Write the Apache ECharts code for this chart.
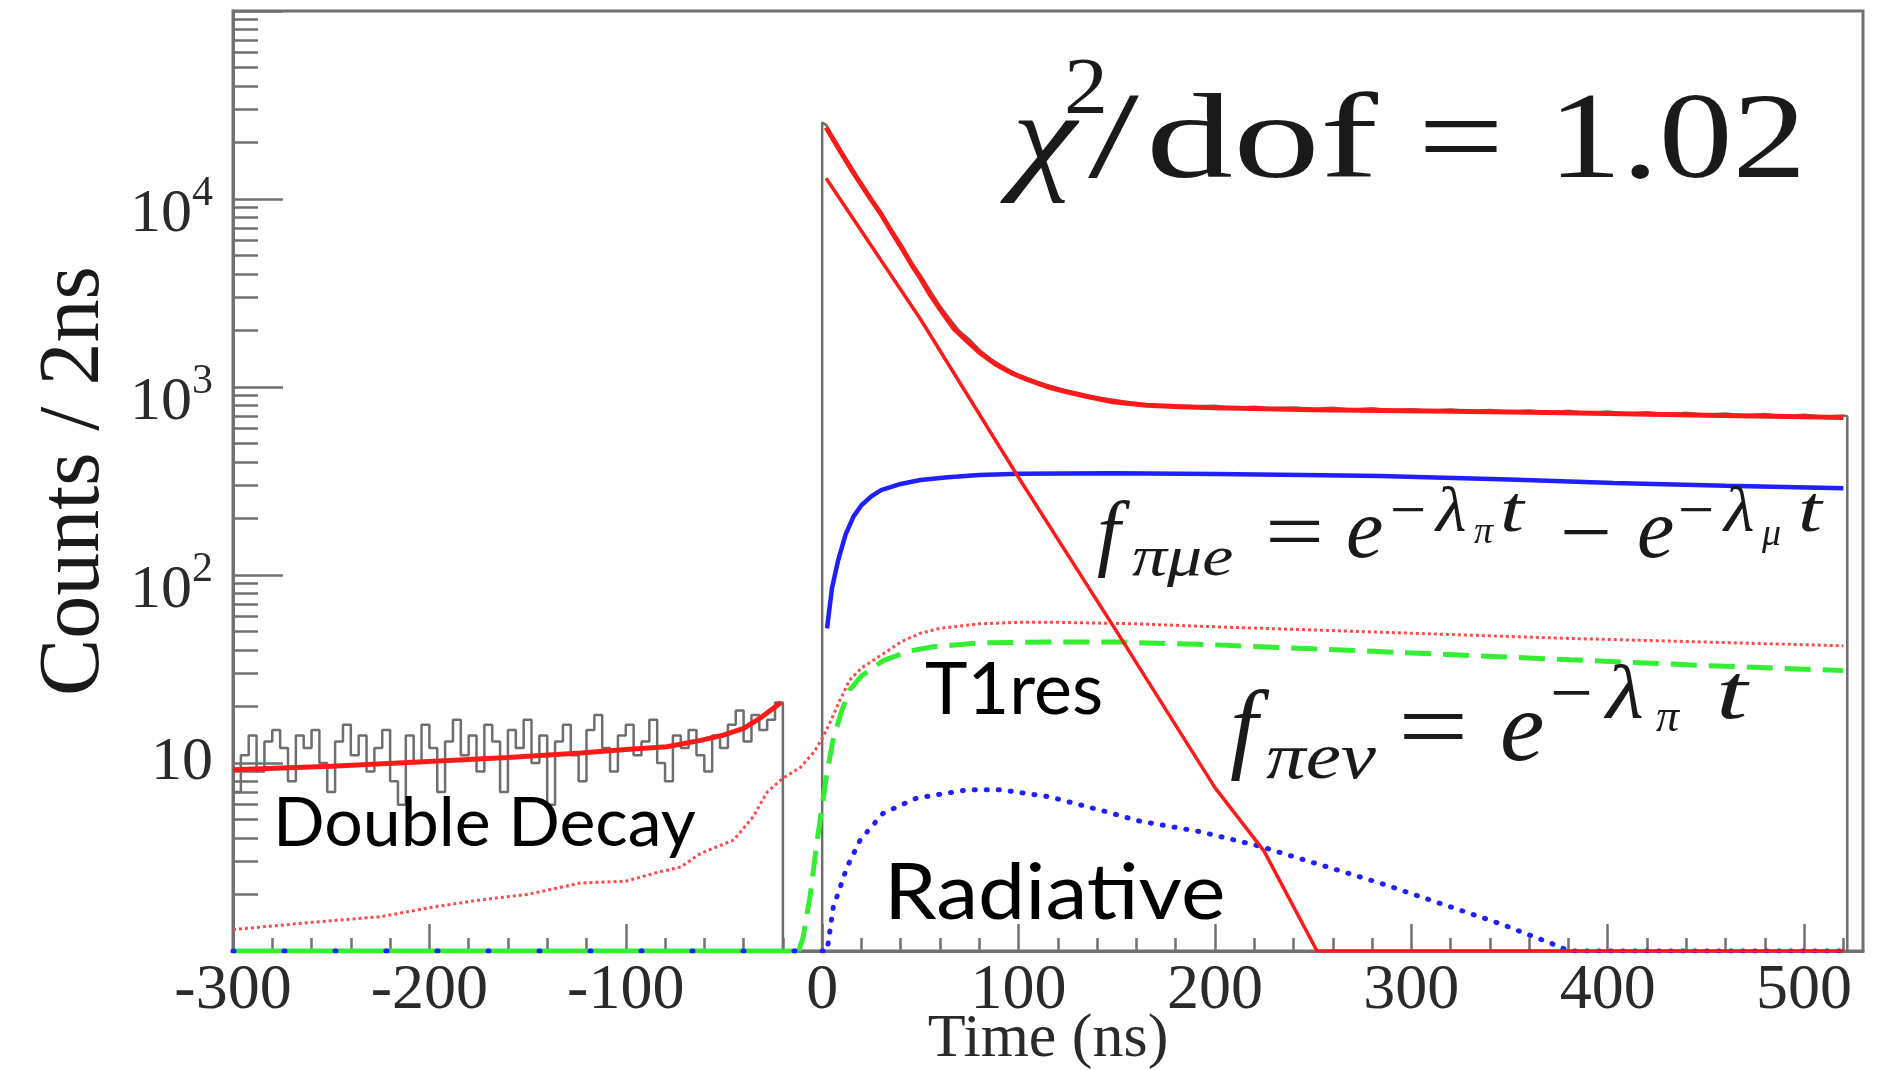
<!DOCTYPE html>
<html>
<head>
<meta charset="utf-8">
<title>Time spectrum fit</title>
<script src="https://cdn.jsdelivr.net/npm/echarts@6/dist/echarts.min.js"></script>
<style>
  html, body { margin: 0; padding: 0; background: #fff; }
  #chart { width: 1881px; height: 1070px; }
</style>
</head>
<body>
<div id="chart"></div>
<script>
// ---- values (time in ns, counts / 2ns) ----
const xMajorTicks = [-300, -200, -100, 0, 100, 200, 300, 400, 500];
const yLabelTicks = [10, 100, 1000, 10000];

// data before the prompt peak: 4 ns bins starting at -300
const earlyStart = -300;
const earlyWidth = 4;
const earlyCounts = [
  7, 11, 14, 9, 13, 15, 12, 8, 14, 12,
  15, 10, 7, 13, 16, 11, 14, 9, 12, 15,
  8, 6, 14, 10, 16, 12, 7, 13, 17, 11,
  14, 9, 16, 13, 7, 15, 12, 17, 10, 14,
  6, 13, 16, 11, 8, 15, 18, 12, 9, 14,
  16, 11, 13, 17, 10, 8, 14, 12, 15, 11,
  9, 14, 12, 16, 19, 13, 18, 15, 17, 21
];

// data after t = 0
const lateT = [0, 0, 2, 6, 10, 14, 18, 22, 26, 30, 35, 40, 45, 50, 55, 60, 65, 70, 75, 80, 85, 90, 95,
  100, 110, 120, 130, 140, 150, 160, 170, 180, 190, 200, 210, 220, 230, 240, 250, 260, 270, 280, 290,
  300, 310, 320, 330, 340, 350, 360, 370, 380, 390, 400, 410, 420, 430, 440, 450, 460, 470, 480, 490,
  500, 510, 520, 522, 522];
const lateCounts = [1, 25500, 24800, 20800, 17900, 15300, 13100, 11100, 9500, 8500, 6900, 5800, 4700, 3950, 3250, 2700, 2300, 1980, 1790, 1580, 1430, 1320, 1230,
  1160, 1060, 985, 925, 880, 850, 815, 805, 800, 790, 795, 772, 785, 770, 778, 766, 775, 757, 770, 752,
  762, 748, 760, 742, 755, 738, 750, 735, 748, 728, 740, 722, 735, 716, 730, 712, 722, 705, 718, 700,
  712, 695, 705, 700, 1];

// total fit
const fitEarlyT = [-300, -250, -208, -160, -123, -100, -79, -62, -50, -40, -32, -25, -21];
const fitEarlyV = [9.2, 9.6, 10.1, 10.7, 11.3, 11.8, 12.2, 13.2, 14.1, 15.3, 17.2, 19.5, 21];
const fitLateT = [2, 5, 10, 15, 20, 25, 30, 35, 40, 46, 50, 55, 60, 67, 74, 80, 88, 97, 105, 115, 125, 135,
  148, 165, 182, 200, 225, 250, 284, 320, 360, 400, 450, 500, 520];
const fitLateV = [24000, 21300, 17400, 14300, 11900, 9900, 8300, 6800, 5600, 4400, 3800, 3100, 2600, 2050, 1750, 1530, 1330, 1180, 1090, 1000, 940, 890,
  835, 800, 785, 775, 765, 757, 750, 742, 733, 722, 708, 695, 688];

// pi -> e nu component
const pienuT = [2, 50, 100, 150, 200, 225, 252, 520];
const pienuV = [12900, 2300, 330, 50, 7.4, 3.4, 1, 1];

// pi -> mu -> e component
const pimueT = [2.5, 5, 8, 12, 16, 20, 25, 30, 40, 50, 64, 80, 100, 148, 200, 245, 284, 350, 403, 460, 520];
const pimueV = [52, 85, 118, 165, 205, 235, 262, 283, 305, 320, 331, 340, 346, 348, 345, 340, 336, 322, 309, 298, 289];

// background (thin dotted red)
const bgT = [-300, -260, -225, -200, -174, -150, -123, -100, -85, -72, -62, -45, -35, -28, -20, -11, -4, 0, 4, 9, 14, 20,
  31, 40, 50, 60, 80, 100, 120, 160, 200, 250, 300, 380, 450, 520];
const bgV = [1.3, 1.42, 1.52, 1.7, 1.87, 2.0, 2.3, 2.35, 2.6, 2.8, 3.3, 3.9, 5.2, 7.0, 8.3, 9.5, 11.5, 13.5, 16.4, 21.5, 27.6, 32,
  38, 44, 49, 52, 55, 56, 56, 55, 53, 51, 49, 46, 44, 42];

// T1res component (green dashed)
const t1resBaseT = [-300, -12];
const t1resBaseV = [1, 1];
const t1resT = [-12, -9.7, -6, -2.5, 2.5, 5.6, 10, 14, 20, 31, 45, 56.5, 80, 116, 150, 200, 250, 300, 381, 450, 520];
const t1resV = [1, 1.18, 2.0, 3.9, 8.9, 13.3, 19, 24.5, 29, 35, 39.5, 41.5, 43.5, 44, 44, 42.5, 40.5, 38.5, 35.4, 33, 31];

// radiative component (blue dotted)
const radBaseT = [-300, 0];
const radBaseV = [1, 1];
const radT = [0, 2.5, 5.6, 12.7, 19.4, 31, 48, 74, 91, 116, 142, 162, 193, 223, 284, 345, 376, 380, 520];
const radV = [1, 1.0, 1.7, 2.8, 3.9, 5.4, 6.5, 7.2, 7.2, 6.6, 5.6, 4.9, 4.3, 3.6, 2.3, 1.4, 1.05, 1, 1];

// ---- build ----
const zip = (t, v) => t.map((x, i) => [x, v[i]]);
const earlyData = earlyCounts.map((c, i) => [earlyStart + i * earlyWidth, c]);
earlyData.push([-20, 1], [0, 1]);

const xMinorTicks = [];
for (let t = -280; t <= 520; t += 20) if (t % 100 !== 0) xMinorTicks.push(t);
const yMajorTicks = [1, 10, 100, 1000, 10000, 100000];
const yMinorTicks = [];
for (let d = 1; d < 100000; d *= 10) for (let m = 2; m <= 9; m++) yMinorTicks.push(m * d);

const serif = '"Liberation Serif", "Times New Roman", serif';
const sans = 'Lato, "Open Sans", sans-serif';
const axisGrey = '#707070';
const ink = '#1a1a1a';

function line(name, data, color, width, type, extra) {
  return Object.assign({
    name: name, type: 'line', data: data, symbol: 'none', smooth: false,
    lineStyle: { color: color, width: width, type: type || 'solid' },
    silent: true
  }, extra || {});
}

// a piece of math text placed by its left edge and baseline
function piece(s, x, base, size, o) {
  o = o || {};
  const fam = o.family || serif;
  return {
    type: 'text', x: x, y: base - (o.off || 0.32) * size, z: 100,
    scaleX: o.sx || 1,
    style: {
      text: s, fill: o.color || ink,
      font: (o.italic ? 'italic ' : 'normal ') + (o.weight || 'normal') + ' ' + size + 'px ' + fam,
      align: 'left', verticalAlign: 'middle'
    }
  };
}

const graphics = [
  // chi2 / dof = 1.02
  piece('χ', 1012, 184, 122, { italic: true, sx: 1.2 }),
  piece('2', 1064, 118, 80, { sx: 1.1 }),
  piece('/', 1088, 184, 122, { sx: 1.5 }),
  piece('dof', 1146, 184, 120, { sx: 1.45 }),
  piece('=', 1418, 184, 122, { sx: 1.25 }),
  piece('1.02', 1548, 184, 122, { sx: 1.21 }),

  // f_pimue = e^{-lambda_pi t} - e^{-lambda_mu t}
  piece('f', 1097, 565, 84, { italic: true }),
  piece('πμe', 1132, 578, 56, { italic: true, sx: 1.25 }),
  piece('=', 1265, 565, 84, { sx: 1.25 }),
  piece('e', 1346, 562, 84, { italic: true }),
  piece('−', 1390, 535, 64),
  piece('λ', 1436, 535, 64, { italic: true, sx: 1.1 }),
  piece('π', 1474, 545, 38, { italic: true }),
  piece('t', 1500, 535, 66, { italic: true, sx: 1.3 }),
  piece('−', 1560, 565, 84, { sx: 1.1 }),
  piece('e', 1637, 562, 84, { italic: true }),
  piece('−', 1678, 535, 64),
  piece('λ', 1724, 535, 64, { italic: true, sx: 1.1 }),
  piece('μ', 1762, 547, 38, { italic: true }),
  piece('t', 1798, 535, 66, { italic: true, sx: 1.3 }),

  // f_pienu = e^{-lambda_pi t}
  piece('f', 1230, 766, 100, { italic: true }),
  piece('πeν', 1266, 782, 66, { italic: true, sx: 1.2 }),
  piece('=', 1398, 766, 100, { sx: 1.25 }),
  piece('e', 1500, 766, 100, { italic: true }),
  piece('−', 1550, 722, 76),
  piece('λ', 1606, 722, 76, { italic: true, sx: 1.15 }),
  piece('π', 1656, 734, 46, { italic: true }),
  piece('t', 1716, 722, 78, { italic: true, sx: 1.45 }),

  // component labels
  piece('Double Decay', 273, 847, 68, { family: sans, off: 0.33, color: '#000' }),
  piece('T1res', 925, 715, 72, { family: sans, off: 0.33, color: '#000' }),
  piece('Radiative', 884, 920, 78, { family: sans, off: 0.33, color: '#000', sx: 1.08 })
];

const chart = echarts.init(document.getElementById('chart'));
chart.setOption({
  animation: false,
  backgroundColor: '#fff',
  grid: {
    left: 233, right: 18, top: 11, bottom: 119,
    show: true, borderColor: axisGrey, borderWidth: 3,
    containLabel: false, outerBoundsMode: 'none'
  },
  xAxis: [{
    type: 'value', min: -300, max: 530, position: 'bottom',
    axisLine: { show: true, onZero: false, lineStyle: { color: axisGrey, width: 3 } },
    axisTick: { show: true, inside: true, length: 27, customValues: xMajorTicks, lineStyle: { color: axisGrey, width: 2.5 } },
    axisLabel: { customValues: xMajorTicks, fontFamily: serif, fontSize: 64, color: '#2a2a2a', margin: 8 },
    splitLine: { show: false },
    name: 'Time (ns)', nameLocation: 'middle', nameGap: 58, nameMoveOverlap: false,
    nameTextStyle: { fontFamily: serif, fontSize: 62, color: '#2a2a2a' }
  }, {
    type: 'value', min: -300, max: 530, position: 'bottom',
    axisLine: { show: false, onZero: false },
    axisTick: { show: true, inside: true, length: 13, customValues: xMinorTicks, lineStyle: { color: axisGrey, width: 2.5 } },
    axisLabel: { show: false },
    splitLine: { show: false }
  }],
  yAxis: [{
    type: 'log', logBase: 10, min: 1, max: 100000, position: 'left',
    axisLine: { show: true, onZero: false, lineStyle: { color: axisGrey, width: 3 } },
    axisTick: { show: true, inside: true, length: 50, customValues: yMajorTicks, lineStyle: { color: axisGrey, width: 2.5 } },
    axisLabel: {
      customValues: yLabelTicks, margin: 20, color: '#2a2a2a',
      formatter: v => {
        const p = Math.round(Math.log10(v));
        return p === 1 ? '{p|10}' : '{b|10}{s|' + p + '}';
      },
      rich: {
        p: { fontFamily: serif, fontSize: 62, lineHeight: 62, color: '#2a2a2a' },
        b: { fontFamily: serif, fontSize: 62, lineHeight: 62, padding: [16, 0, 0, 0], verticalAlign: 'top', color: '#2a2a2a' },
        s: { fontFamily: serif, fontSize: 42, lineHeight: 42, padding: [5, 0, 0, 0], verticalAlign: 'top', color: '#2a2a2a' }
      }
    },
    splitLine: { show: false },
    name: 'Counts / 2ns', nameLocation: 'middle', nameGap: 115, nameRotate: 90, nameMoveOverlap: false,
    nameTextStyle: { fontFamily: serif, fontSize: 86, color: '#1a1a1a' }
  }, {
    type: 'log', logBase: 10, min: 1, max: 100000, position: 'left',
    axisLine: { show: false, onZero: false },
    axisTick: { show: true, inside: true, length: 25, customValues: yMinorTicks, lineStyle: { color: axisGrey, width: 2.5 } },
    axisLabel: { show: false },
    splitLine: { show: false }
  }],
  series: [
    line('data early', earlyData, '#6e6e6e', 2.5, 'solid', { step: 'end' }),
    line('data late', zip(lateT, lateCounts), '#6e6e6e', 2.5),
    line('T1res base', zip(t1resBaseT, t1resBaseV), '#33ee33', 5),
    line('T1res', zip(t1resT, t1resV), '#33ee33', 5, [26, 12]),
    line('radiative base', zip(radBaseT, radBaseV), '#1f1fff', 5, 'solid', { lineStyle: { color: '#1f1fff', width: 5, type: [1, 50], cap: 'round' } }),
    line('radiative', zip(radT, radV), '#1f1fff', 5, 'solid', { lineStyle: { color: '#1f1fff', width: 5, type: [1, 11], cap: 'round' } }),
    line('background', zip(bgT, bgV), '#ff4a4a', 3, [3, 3]),
    line('pi mu e', zip(pimueT, pimueV), '#1f1fff', 4.5),
    line('pi e nu', zip(pienuT, pienuV), '#ff1a1a', 3.5),
    line('fit early', zip(fitEarlyT, fitEarlyV), '#ff1a1a', 5),
    line('fit late', zip(fitLateT, fitLateV), '#ff1a1a', 5)
  ],
  graphic: graphics
});
</script>
</body>
</html>
